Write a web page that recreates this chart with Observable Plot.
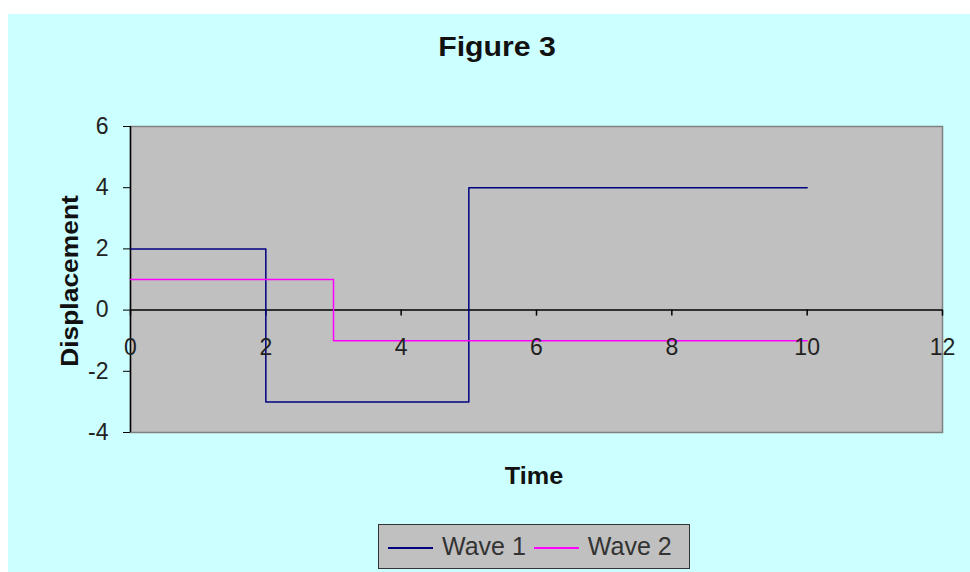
<!DOCTYPE html>
<html>
<head>
<meta charset="utf-8">
<script src="https://cdn.jsdelivr.net/npm/d3@7"></script>
<script src="https://cdn.jsdelivr.net/npm/@observablehq/plot@0.6"></script>
<style>
  html, body { margin: 0; padding: 0; background: #ffffff; }
  #page { position: relative; width: 970px; height: 572px; overflow: hidden; font-family: "Liberation Sans", Arial, sans-serif; }
  #bg { position: absolute; left: 8px; top: 14px; right: 0; bottom: 0; background: #ccffff; }
  #chart { position: absolute; left: 8px; top: 14px; }
  .lbl { position: absolute; font-weight: bold; color: #111; white-space: nowrap; }
  #title { left: 397px; width: 200px; top: 34px; text-align: center; font-size: 27px; line-height: 27px; transform: scaleX(1.12); }
  #xlabel { left: 434px; width: 200px; top: 464px; text-align: center; font-size: 24px; line-height: 24px; transform: scaleX(1.05); }
  #ylabel { left: 70px; top: 281px; font-size: 24px; line-height: 24px; transform: translate(-50%, -50%) rotate(-90deg) scaleX(1.1); }
  #legend { position: absolute; left: 378px; top: 524px; width: 312px; height: 45px; box-sizing: border-box; border: 1.5px solid #333; background: #c0c0c0; display: flex; align-items: center; padding-left: 9px; font-family: "Liberation Sans Narrow", "Liberation Sans", Arial, sans-serif; font-size: 25px; color: #333; }
  .sw { display: inline-block; width: 45px; height: 0; border-top: 2px solid; margin-right: 9px; margin-top: 2px; }
  .item { display: flex; align-items: center; margin-right: 8px; }
</style>
</head>
<body>
<div id="page">
  <div id="bg"></div>
  <div id="chart"></div>
  <div id="title" class="lbl">Figure 3</div>
  <div id="xlabel" class="lbl">Time</div>
  <div id="ylabel" class="lbl">Displacement</div>
  <div id="legend"></div>
</div>
<script>
// Data
const seriesNames = ["Wave 1", "Wave 2"];
const seriesColors = ["#000080", "#ff00ff"];
const wave1Time = [0, 2, 5, 10];
const wave1Value = [2, -3, 4, 4];
const wave2Time = [0, 3, 10];
const wave2Value = [1, -1, -1];
const xTicks = [0, 2, 4, 6, 8, 10, 12];
const yTicks = [-4, -2, 0, 2, 4, 6];

const wave1 = wave1Time.map((t, i) => ({time: t, value: wave1Value[i], series: seriesNames[0]}));
const wave2 = wave2Time.map((t, i) => ({time: t, value: wave2Value[i], series: seriesNames[1]}));

const tickFont = "'Liberation Sans Narrow', 'Liberation Sans', Arial, sans-serif";

const chart = Plot.plot({
  width: 962,
  height: 558,
  marginLeft: 122,
  marginTop: 112,
  marginRight: 28,
  marginBottom: 140,
  style: {background: "transparent", fontFamily: tickFont, fontSize: "23px", color: "#222"},
  x: {domain: [0, 12], axis: null},
  y: {domain: [-4, 6]},
  marks: [
    Plot.frame({fill: "#c0c0c0", stroke: "#808080", strokeWidth: 1.5}),
    Plot.axisY({ticks: yTicks, tickFormat: d => String(d), tickSize: 7, tickPadding: 15, label: null, fontSize: 23, stroke: "#000"}),
    Plot.ruleX([0], {stroke: "#000", strokeWidth: 1.5}),
    Plot.ruleY([0], {stroke: "#000", strokeWidth: 1.5}),
    Plot.ruleX(xTicks, {x: d => d, y1: 0, y2: 0, insetBottom: -6, stroke: "#000", strokeWidth: 1.5}),
    Plot.line(wave1, {x: "time", y: "value", curve: "step-after", stroke: seriesColors[0], strokeWidth: 1.5}),
    Plot.line(wave2, {x: "time", y: "value", curve: "step-after", stroke: seriesColors[1], strokeWidth: 1.5}),
    Plot.text(xTicks, {x: d => d, y: 0, dy: 38, text: d => String(d), fontSize: 23, fill: "#222"})
  ]
});
document.getElementById("chart").appendChild(chart);

const legend = document.getElementById("legend");
seriesNames.forEach((name, i) => {
  const item = document.createElement("span");
  item.className = "item";
  const sw = document.createElement("span");
  sw.className = "sw";
  sw.style.borderTopColor = seriesColors[i];
  item.appendChild(sw);
  item.appendChild(document.createTextNode(name));
  legend.appendChild(item);
});
</script>
</body>
</html>
